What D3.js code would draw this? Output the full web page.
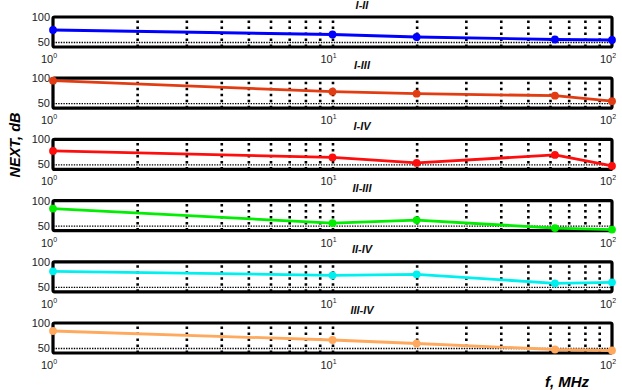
<!DOCTYPE html>
<html>
<head>
<meta charset="utf-8">
<script src="https://cdn.jsdelivr.net/npm/d3@7"></script>
<style>
  body { margin: 0; background: #fff; }
  svg { display: block; font-family: "Liberation Sans", Arial, sans-serif; }
</style>
</head>
<body>
<div id="chart"></div>
<script>
// Frequencies (MHz) and NEXT values (dB) for each pair combination
const FREQS = [1, 10, 20, 62.5, 100];
const PAIRS = ["I-II", "I-III", "I-IV", "II-III", "II-IV", "III-IV"];
const NEXT_I_II = [74, 65, 60, 55, 54];
const NEXT_I_III = [95, 73, 69, 65, 54];
const NEXT_I_IV = [77, 64, 53, 69, 47];
const NEXT_II_III = [84, 55, 61, 45, 42];
const NEXT_II_IV = [81, 73, 75, 57, 59];
const NEXT_III_IV = [84, 66, 59, 47, 45];
const Y_TICKS = [50, 100];
const X_DECADES = [1, 10, 100];
const COLORS = ["#0000ff", "#e23c12", "#ff0d0d", "#00ee00", "#00f0f0", "#ffa95e"];

const SERIES = [NEXT_I_II, NEXT_I_III, NEXT_I_IV, NEXT_II_III, NEXT_II_IV, NEXT_III_IV];

// Frame sizes
const FRAME_WIDTH = 622;
const FRAME_HEIGHT = 390;
const PLOT_LEFT = 53;
const PLOT_RIGHT = 612;
const PANEL_TOP = 17;
const PANEL_STEP = 61.2;
const PANEL_HEIGHT = 30;

const svg = d3.select("#chart")
  .append("svg")
    .attr("width", FRAME_WIDTH)
    .attr("height", FRAME_HEIGHT);

// shared log scale for frequency
const X_SCALE = d3.scaleLog()
  .domain([1, 100])
  .range([PLOT_LEFT, PLOT_RIGHT]);

const Y_SCALE = d3.scaleLinear()
  .domain([40, 100])
  .range([PANEL_HEIGHT, 0]);

// minor vertical grid: 2..10, 20..90
const minorTicks = X_SCALE.ticks().filter(v => v > 1 && v < 100);

PAIRS.forEach((name, i) => {
  const top = PANEL_TOP + i * PANEL_STEP;
  const g = svg.append("g").attr("transform", "translate(0," + top + ")");

  // vertical dotted grid
  g.append("g")
    .attr("transform", "translate(0," + PANEL_HEIGHT + ")")
    .call(d3.axisBottom(X_SCALE).tickValues(minorTicks).tickSize(-PANEL_HEIGHT).tickFormat(""))
    .call(a => a.select(".domain").remove())
    .call(a => a.selectAll("line")
      .attr("stroke", "#000")
      .attr("stroke-width", 2.6)
      .attr("stroke-dasharray", "2.5,3.5"));

  // horizontal dotted grid at 50
  g.append("g")
    .attr("transform", "translate(" + PLOT_LEFT + ",0)")
    .call(d3.axisLeft(Y_SCALE).tickValues([50]).tickSize(-(PLOT_RIGHT - PLOT_LEFT)).tickFormat(""))
    .call(a => a.select(".domain").remove())
    .call(a => a.selectAll("line")
      .attr("stroke", "#000")
      .attr("stroke-width", 1.3)
      .attr("stroke-dasharray", "1.4,1.2"));

  // thick box
  g.append("rect")
    .attr("x", PLOT_LEFT)
    .attr("y", 0)
    .attr("width", PLOT_RIGHT - PLOT_LEFT)
    .attr("height", PANEL_HEIGHT)
    .attr("fill", "none")
    .attr("stroke", "#000")
    .attr("stroke-width", 3.2)
    .attr("rx", 1.5);

  // y tick labels
  g.selectAll(".ylab")
    .data(Y_TICKS)
    .enter()
    .append("text")
      .attr("x", PLOT_LEFT - 3)
      .attr("y", d => Y_SCALE(d) + 4)
      .attr("text-anchor", "end")
      .style("font-size", "11px")
      .attr("fill", "#222")
      .text(d => d);

  // x tick labels 10^n
  const xl = g.selectAll(".xlab")
    .data(X_DECADES)
    .enter()
    .append("text")
      .attr("x", d => X_SCALE(d) - 4)
      .attr("y", PANEL_HEIGHT + 16)
      .attr("text-anchor", "middle")
      .style("font-size", "11px")
      .attr("fill", "#222");
  xl.append("tspan").text("10");
  xl.append("tspan")
    .attr("dy", -5)
    .style("font-size", "7px")
    .text(d => Math.round(Math.log10(d)));

  // series line
  const pts = FREQS.map((f, k) => [f, SERIES[i][k]]);
  g.append("path")
    .datum(pts)
    .attr("fill", "none")
    .attr("stroke", COLORS[i])
    .attr("stroke-width", 2.8)
    .attr("stroke-linejoin", "round")
    .attr("d", d3.line().x(d => X_SCALE(d[0])).y(d => Y_SCALE(d[1])));

  g.selectAll(".pt")
    .data(pts)
    .enter()
    .append("circle")
      .attr("cx", d => X_SCALE(d[0]))
      .attr("cy", d => Y_SCALE(d[1]))
      .attr("r", 3.9)
      .attr("fill", COLORS[i]);

  // panel title (first one sits close to the top edge)
  g.append("text")
    .attr("x", 362)
    .attr("y", i === 0 ? -8 : -9)
    .attr("text-anchor", "middle")
    .style("font-size", "11px")
    .style("font-weight", "bold")
    .style("font-style", "italic")
    .attr("fill", "#111")
    .text(name);
});

// axis titles
svg.append("text")
  .attr("transform", "translate(20,145) rotate(-90)")
  .attr("text-anchor", "middle")
  .style("font-size", "14.5px")
  .style("font-weight", "bold")
  .style("font-style", "italic")
  .text("NEXT, dB");

svg.append("text")
  .attr("x", 567)
  .attr("y", 387)
  .attr("text-anchor", "middle")
  .style("font-size", "15px")
  .style("font-weight", "bold")
  .style("font-style", "italic")
  .text("f, MHz");
</script>
</body>
</html>
